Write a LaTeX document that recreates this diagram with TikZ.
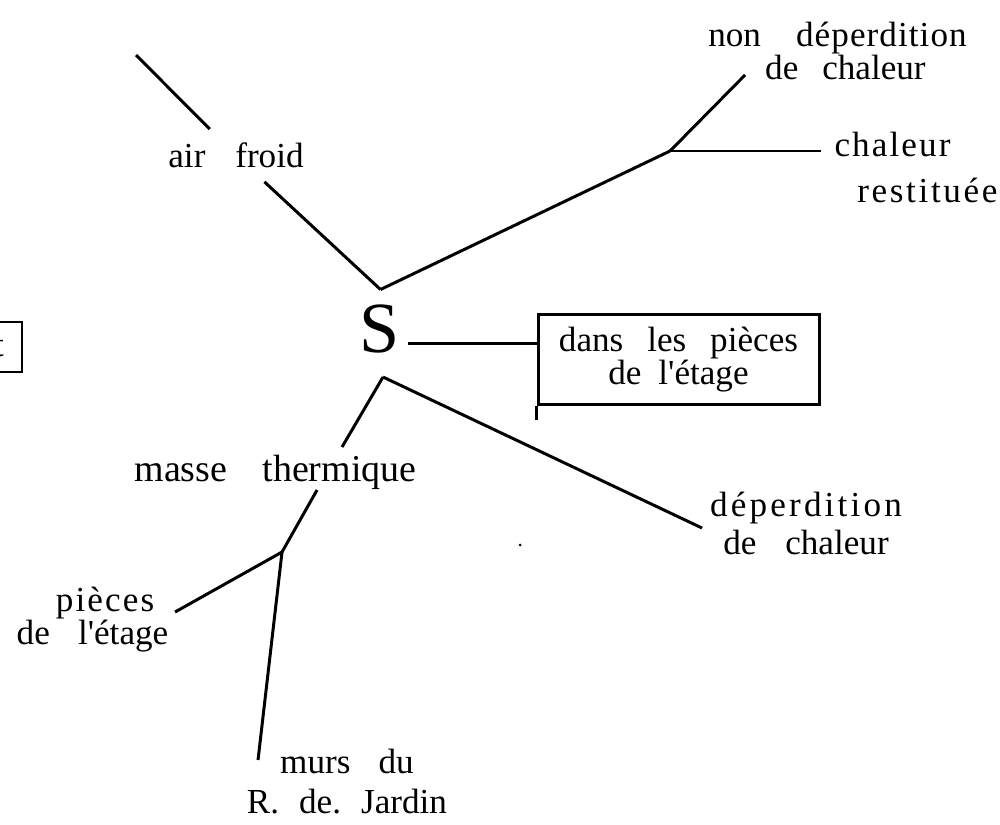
\documentclass[tikz,border=0pt]{standalone}
\usepackage{fontspec}
\setmainfont{Liberation Serif}
\newfontfamily\spaced{Liberation Serif}[LetterSpace=9]
\newfontfamily\halfspaced{Liberation Serif}[LetterSpace=6]
\newfontfamily\thinspaced{Liberation Serif}[LetterSpace=3]
\newcommand{\lbl}{\fontsize{10}{9.4}\selectfont}
\newcommand{\apos}{\textquotesingle}

\begin{document}
\begin{tikzpicture}[scale=0.1, line width=0.85pt]
\tikzstyle{every node}+=[inner sep=3.5pt, font=\lbl]
\useasboundingbox (0,0) rectangle (100,-82.5);
\node (S) at (38.0,-32.9) [inner sep=0pt, font=\fontsize{20.5}{20}\selectfont] {S};
\node (af) at (23.6,-15.55) {air\hspace{8.5pt}froid};
\node (mt) at (27.55,-47.2) [font=\fontsize{10.8}{10}\selectfont] {masse\hspace{10pt}thermique};
\node (pe) at (9.25,-62.0) [align=right] {{\halfspaced pièces}\hspace*{4pt}\\de\hspace{8pt}l\apos étage};
\node (mj) at (34.7,-78.2) [align=center] {murs\hspace{8pt}du\\[2pt]R.\hspace{5.7pt}de.\hspace{5.7pt}Jardin};
\node (box) at (67.85,-35.95) [draw, align=center, minimum width=2.81cm, minimum height=0.87cm] {dans\hspace{6.8pt}les\hspace{6.8pt}pièces\\de\hspace{4.8pt}l\apos étage};
\node (nd) at (83.75,-5.1) [align=center] {non\hspace{10pt}{\thinspaced déperdition}\\\hspace*{4.5pt}de\hspace{6.8pt}chaleur};
\node (cr) at (91.6,-16.75) [align=left] {{\halfspaced chaleur}\\[3.6pt]\hspace*{6.5pt}{\fontspec{Liberation Serif}[LetterSpace=7.5]restituée}};
\node (dc) at (80.6,-52.35) [align=center] {{\spaced déperdition}\\[1.6pt]de\hspace{8.2pt}chaleur};
\node (lt) at (-0.1,-34.7) [draw, minimum width=0.46cm, minimum height=0.5cm] {t};
% branch points
\coordinate (Stop) at (38.05,-28.95);
\coordinate (Sbot) at (38.3,-37.7);
\coordinate (sb) at (40.8,-34.3);
\coordinate (J1) at (67.0,-15.1);
\coordinate (J2) at (28.2,-55.2);
% free ends
\coordinate (afend) at (13.6,-5.5);
\coordinate (ndend) at (74.5,-7.5);
\coordinate (mt1) at (34.2,-44.7);
\coordinate (mt2) at (31.7,-49.0);
\coordinate (peend) at (17.5,-61.2);
\coordinate (mjend) at (25.8,-76.0);
\coordinate (dcend) at (70.2,-52.8);
\draw [black] (afend) -- (af) -- (Stop);
\draw [black] (Stop) -- (J1);
\draw [black] (J1) -- (ndend);
\draw [black] (J1) -- (J1 -| cr.west);
\draw [black] (sb) -- (sb -| box.west);
\draw [black] (box.south west) -- ++(0,-1.4);
\draw [black] (Sbot) -- (mt1);
\draw [black] (mt2) -- (J2);
\draw [black] (J2) -- (peend);
\draw [black] (J2) -- (mjend);
\draw [black] (Sbot) -- (dcend);
\fill [black] (52.0,-54.5) circle (0.15);
\end{tikzpicture}
\end{document}
